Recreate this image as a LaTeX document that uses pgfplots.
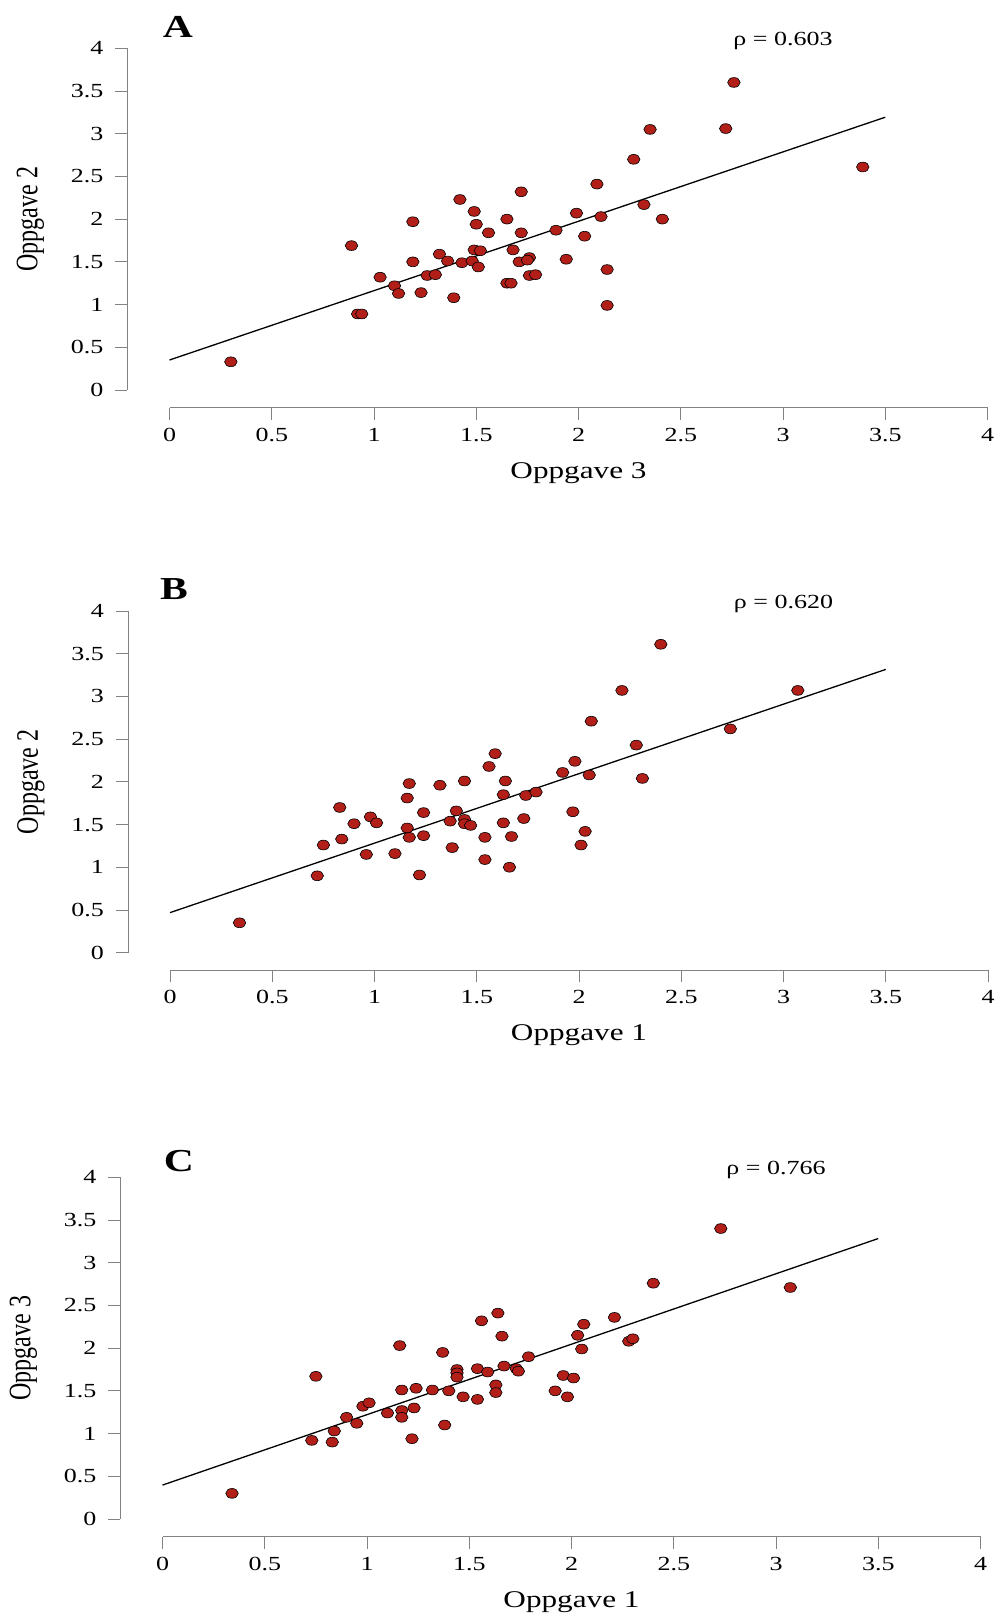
\documentclass[border=0pt]{standalone}
\usepackage{fontspec}
\setmainfont{Liberation Serif}[FakeStretch=1.3]
\newfontfamily\plainfont{Liberation Serif}
\usepackage{pgfplots}
\pgfplotsset{compat=1.18}
\definecolor{dotred}{RGB}{178,30,24}
\definecolor{axisgray}{RGB}{130,130,130}

\pgfplotsset{
  rplot/.style={
    scale only axis, width=818bp, height=341.7bp,
    xmin=0, xmax=4, ymin=0, ymax=4,
    axis lines=left, axis line style={-, axisgray, line width=0.9bp},
    separate axis lines,
    axis x line shift=17.7bp, axis y line shift=42bp,
    xtick={0,0.5,1,1.5,2,2.5,3,3.5,4}, ytick={0,0.5,1,1.5,2,2.5,3,3.5,4},
    tick align=outside, major tick length=12bp,
    tick style={axisgray, line width=0.9bp},
    /pgf/number format/assume math mode=true,
    ticklabel style={font=\fontsize{20bp}{23bp}\selectfont, inner sep=0pt},
    xticklabel style={yshift=-8bp},
    yticklabel style={xshift=-12bp},
    xlabel style={font=\fontsize{24bp}{28bp}\selectfont, at={(axis description cs:0.5,-0.242)}, anchor=center},
    ylabel style={font=\plainfont\fontsize{24bp}{28bp}\selectfont, at={(axis description cs:-0.170,0.5)}, anchor=center, yscale=1.3},
    clip=false,
  },
  dots/.style={only marks, mark=*, mark size=4.9bp,
    mark options={xscale=1.28, fill=dotred, draw=black, line width=0.6bp}},
  fit/.style={black, line width=1.3bp, no marks},
}
\newcommand{\rhofont}{\fontsize{20bp}{24bp}\selectfont}
\newcommand{\letterfont}{\bfseries\fontsize{32bp}{36bp}\selectfont}

\begin{document}
\begin{tikzpicture}
\path[use as bounding box] (0,0) rectangle (996bp,1618bp);

% A
\begin{axis}[rplot, at={(169.5bp,1228bp)}, anchor=south west,
  xlabel={Oppgave 3}, ylabel={Oppgave 2}]
\addplot[dots] coordinates {
(0.30,0.33) (0.89,1.69) (0.92,0.89) (0.94,0.89) (1.03,1.32) (1.10,1.22)
(1.12,1.13) (1.19,1.97) (1.19,1.50) (1.23,1.14) (1.26,1.34) (1.30,1.35)
(1.32,1.59) (1.36,1.51) (1.39,1.08) (1.42,2.23) (1.43,1.49) (1.48,1.51)
(1.49,2.09) (1.50,1.94) (1.49,1.64) (1.52,1.63) (1.51,1.44) (1.56,1.84)
(1.65,2.00) (1.65,1.25) (1.67,1.25) (1.68,1.64) (1.72,2.32) (1.72,1.84)
(1.71,1.50) (1.76,1.55) (1.75,1.52) (1.76,1.34) (1.79,1.35) (1.89,1.87)
(1.94,1.53) (1.99,2.07) (2.03,1.80) (2.09,2.41) (2.11,2.03) (2.14,1.41)
(2.14,0.99) (2.27,2.70) (2.32,2.17) (2.35,3.05) (2.41,2.00) (2.72,3.06)
(2.76,3.60) (3.39,2.61)
};
\addplot[fit] coordinates {(0,0.351) (3.5,3.193)};
\node[anchor=base, font=\rhofont] at (axis cs:3,4.03) {ρ = 0.603};
\node[anchor=base west, font=\letterfont] at (axis cs:-0.05,4.13) {A};
\end{axis}

% B
\begin{axis}[rplot, at={(170bp,665.3bp)}, anchor=south west,
  xlabel={Oppgave 1}, ylabel={Oppgave 2}]
\addplot[dots] coordinates {
(0.34,0.35) (0.72,0.90) (0.75,1.26) (0.83,1.70) (0.84,1.33) (0.90,1.51)
(0.96,1.15) (0.98,1.59) (1.01,1.52) (1.10,1.16) (1.16,1.81) (1.17,1.98)
(1.16,1.46) (1.17,1.35) (1.22,0.91) (1.24,1.37) (1.24,1.64) (1.32,1.96)
(1.38,1.23) (1.37,1.54) (1.40,1.66) (1.44,2.01) (1.44,1.56) (1.44,1.51)
(1.47,1.49) (1.54,1.35) (1.54,1.09) (1.56,2.18) (1.59,2.33) (1.63,1.52)
(1.63,1.85) (1.64,2.01) (1.66,1.00) (1.67,1.36) (1.73,1.57) (1.74,1.84)
(1.79,1.88) (1.92,2.11) (1.97,1.65) (1.98,2.24) (2.01,1.26) (2.03,1.42)
(2.05,2.08) (2.06,2.71) (2.21,3.07) (2.28,2.43) (2.31,2.04) (2.40,3.61)
(2.74,2.62) (3.07,3.07)
};
\addplot[fit] coordinates {(0,0.469) (3.5,3.316)};
\node[anchor=base, font=\rhofont] at (axis cs:3,4.03) {ρ = 0.620};
\node[anchor=base west, font=\letterfont] at (axis cs:-0.065,4.14) {B};
\end{axis}

% C
\begin{axis}[rplot, at={(162.5bp,99bp)}, anchor=south west,
  xlabel={Oppgave 1}, ylabel={Oppgave 3}]
\addplot[dots] coordinates {
(0.34,0.30) (0.73,0.92) (0.75,1.67) (0.83,0.90) (0.84,1.03) (0.90,1.19)
(0.95,1.12) (0.98,1.32) (1.01,1.36) (1.10,1.24) (1.16,2.03) (1.17,1.51)
(1.17,1.27) (1.17,1.19) (1.22,0.94) (1.24,1.53) (1.23,1.30) (1.32,1.51)
(1.37,1.95) (1.38,1.10) (1.40,1.50) (1.44,1.75) (1.44,1.71) (1.44,1.66)
(1.47,1.43) (1.54,1.76) (1.54,1.40) (1.56,2.32) (1.59,1.72) (1.63,1.57)
(1.63,1.48) (1.64,2.41) (1.66,2.14) (1.67,1.79) (1.73,1.76) (1.74,1.73)
(1.79,1.90) (1.92,1.50) (1.96,1.68) (1.98,1.43) (2.01,1.65) (2.03,2.15)
(2.05,1.99) (2.06,2.28) (2.21,2.36) (2.28,2.08) (2.30,2.11) (2.40,2.76)
(2.73,3.40) (3.07,2.71)
};
\addplot[fit] coordinates {(0,0.397) (3.5,3.283)};
\node[anchor=base, font=\rhofont] at (axis cs:3,4.03) {ρ = 0.766};
\node[anchor=base west, font=\letterfont] at (axis cs:-0.01,4.07) {C};
\end{axis}
\end{tikzpicture}
\end{document}
